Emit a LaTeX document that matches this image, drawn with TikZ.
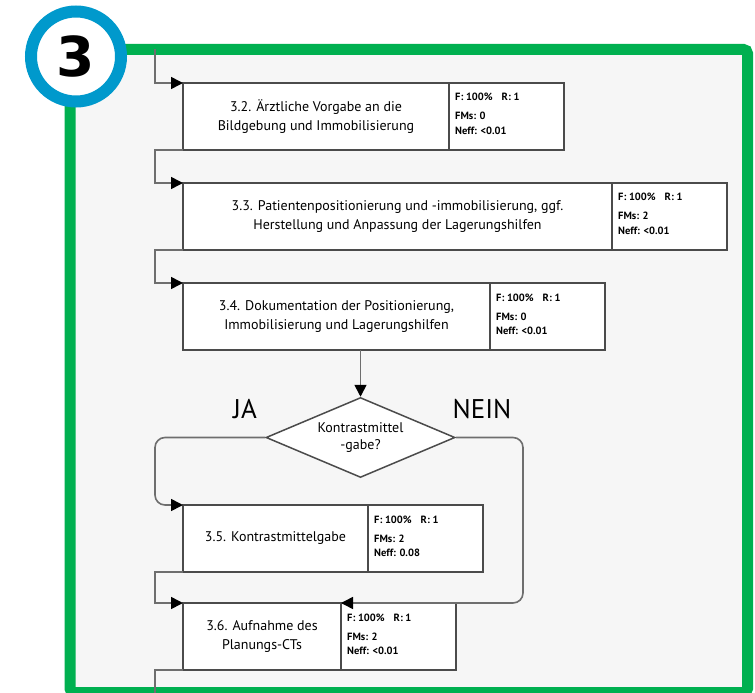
\documentclass[tikz,border=0pt]{standalone}
\usepackage{fontspec}
\setmainfont{PT Sans}
\newfontfamily\numfont{DejaVu Sans}
\usepackage{xcolor}
\usetikzlibrary{positioning,shapes.geometric,arrows.meta}

\definecolor{framegreen}{RGB}{0,176,80}
\definecolor{ringblue}{RGB}{0,153,204}
\definecolor{boxgray}{RGB}{75,75,75}
\definecolor{linegray}{RGB}{110,110,110}
\definecolor{paper}{RGB}{246,246,246}

\tikzset{
  stepbox/.style={draw=boxgray, fill=white, line width=1.5pt, outer sep=0pt,
    minimum height=67pt, inner sep=0pt, align=center, anchor=north west,
    font=\fontsize{14}{18.5}\selectfont},
  infobox/.style={draw=boxgray, fill=white, line width=1.5pt, outer sep=0pt,
    minimum height=67pt, minimum width=115pt, inner sep=0pt},
  infotext/.style={anchor=north west, inner sep=0pt, align=left, shift={(6,10.3)},
    font=\bfseries\fontsize{10.5}{14.5}\selectfont},
  decision/.style={diamond, aspect=2.36, draw=boxgray, fill=white, line width=1.5pt,
    minimum width=189pt, minimum height=80pt, inner sep=0pt, align=center,
    font=\fontsize{14}{17}\selectfont},
  answer/.style={font=\fontsize{27}{27}\selectfont},
  link/.style={draw=linegray, line width=1.6pt},
  flow/.style={link, -{Triangle[length=12pt,width=12pt,color=black]}}
}

\begin{document}
\begin{tikzpicture}[x=1pt, y=-1pt]
    \useasboundingbox (0,0) rectangle (755,693);
    \clip (0,0) rectangle (755,693);

    % Rahmen
    \draw[framegreen, line width=11pt, fill=paper, rounded corners=4pt] (70,49.5) rectangle (747.5,692.5);
    \coordinate (top) at (155,49.5);

    % Schritte
    \node[stepbox, minimum width=266pt] (b32) at (183,83) {3.2. Ärztliche Vorgabe an die\\Bildgebung und Immobilisierung};
    \node[infobox, right=0pt of b32] (b32i) {};
    \node[infotext] at (b32i.north west) {F: 100\%\hspace{9pt}R: 1\\[4.5pt]FMs: 0\\Neff: <0.01};

    \node[stepbox, minimum width=429pt] (b33) at (183,183) {3.3. Patientenpositionierung und -immobilisierung, ggf.\\Herstellung und Anpassung der Lagerungshilfen};
    \node[infobox, right=0pt of b33] (b33i) {};
    \node[infotext] at (b33i.north west) {F: 100\%\hspace{9pt}R: 1\\[4.5pt]FMs: 2\\Neff: <0.01};

    \node[stepbox, minimum width=307pt] (b34) at (183,283) {3.4. Dokumentation der Positionierung,\\Immobilisierung und Lagerungshilfen};
    \node[infobox, right=0pt of b34] (b34i) {};
    \node[infotext] at (b34i.north west) {F: 100\%\hspace{9pt}R: 1\\[4.5pt]FMs: 0\\Neff: <0.01};

    % Verzweigung
    \node[decision] (dia) at (360.5,437.5) {Kontrastmittel\\-gabe?};
    \node[answer] (ja) at (245,409) {JA};
    \node[answer] (nein) at (482,409) {NEIN};

    \node[stepbox, minimum width=185pt] (b35) at (183,505) {3.5. Kontrastmittelgabe};
    \node[infobox, right=0pt of b35] (b35i) {};
    \node[infotext] at (b35i.north west) {F: 100\%\hspace{9pt}R: 1\\[4.5pt]FMs: 2\\Neff: 0.08};

    \node[stepbox, minimum width=158pt] (b36) at (183,603) {3.6. Aufnahme des\\Planungs-CTs};
    \node[infobox, right=0pt of b36] (b36i) {};
    \node[infotext] at (b36i.north west) {F: 100\%\hspace{9pt}R: 1\\[4.5pt]FMs: 2\\Neff: <0.01};

    % Verbindungen
    \draw[flow] (top) |- (b32.north west);
    \draw[flow] (b32.south west) -- ++(-28,0) |- (b33.north west);
    \draw[flow] (b33.south west) -- ++(-28,0) |- (b34.north west);
    \draw[flow] (b34.south -| dia.north) -- (dia.north);
    \draw[flow, rounded corners=10pt] (dia.west) -| ([xshift=-28pt]b35.north west) -- (b35.north west);
    \draw[flow, rounded corners=10pt] (dia.east) -| ([xshift=182pt]b36i.north west) -- (b36i.north west);
    \draw[flow] (b35.south west) -- ++(-28,0) |- (b36.north west);
    \draw[link] (b36.south west) -- ++(-28,0) -- ++(0,40);

    % Nummer
    \node[circle, draw=ringblue, line width=12pt, fill=white, minimum size=90pt, inner sep=0pt,
      font=\numfont\bfseries\fontsize{55}{55}\selectfont] (num) at (76,56.5) {3};
\end{tikzpicture}
\end{document}
